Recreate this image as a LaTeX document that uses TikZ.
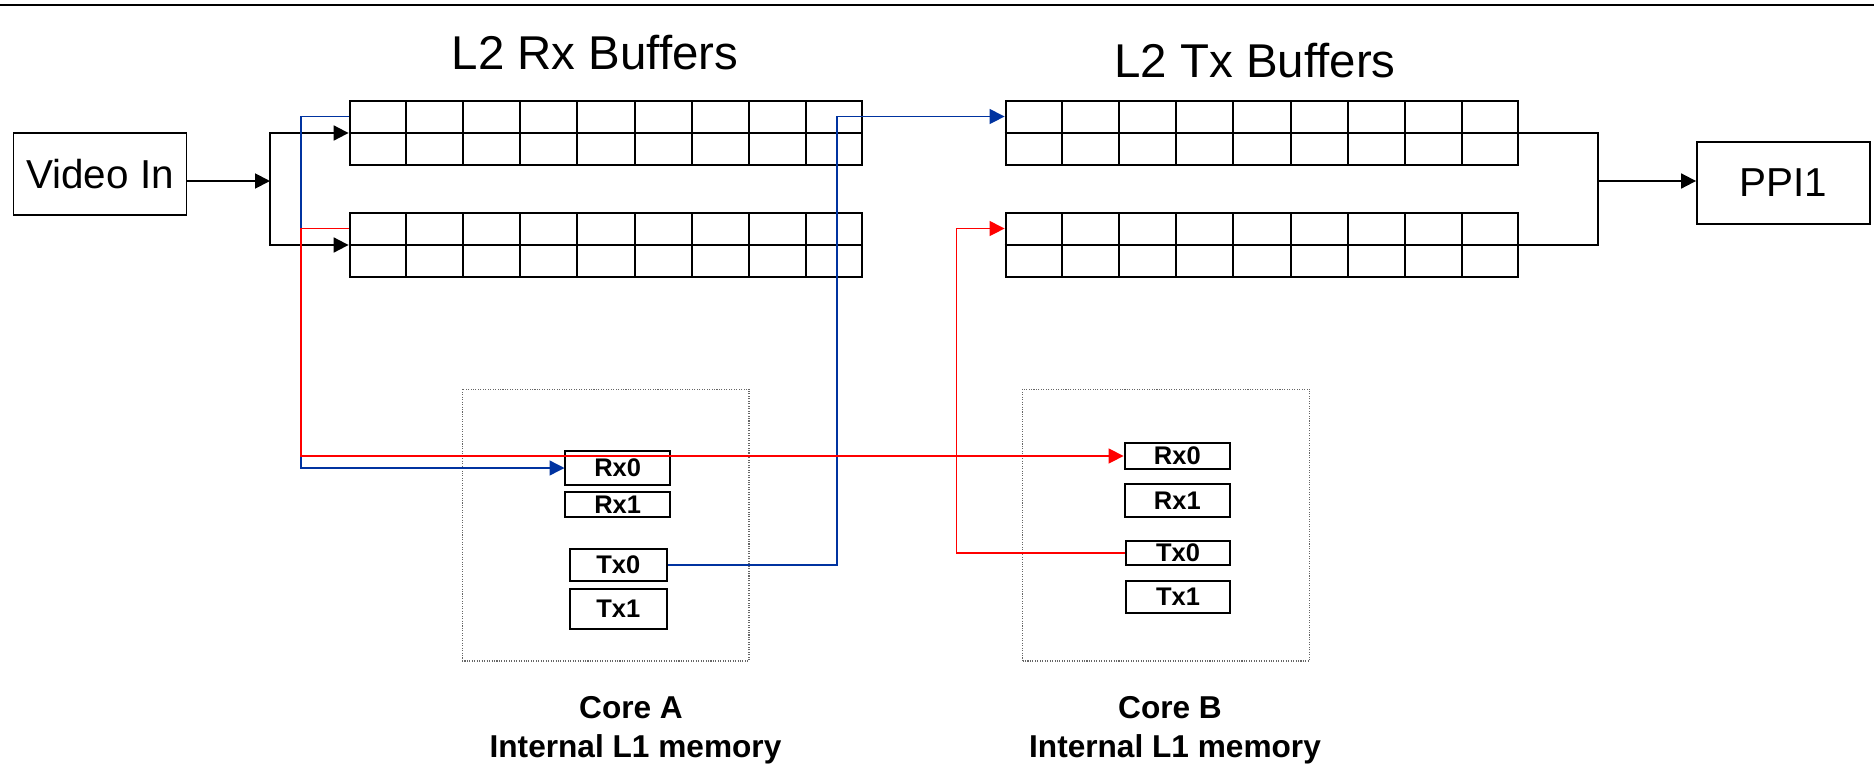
\documentclass[tikz,border=0pt]{standalone}
\usepackage{fontspec}
\setmainfont{Liberation Sans}
\usepackage{tikz}
\usetikzlibrary{arrows.meta,calc}
\definecolor{rxblue}{HTML}{0033A0}
\definecolor{txred}{HTML}{FF0000}
\tikzset{
  io/.style  ={draw, line width=1.1pt, minimum width=3.46cm, minimum height=1.64cm, inner sep=0pt, font=\fontsize{23}{27}\selectfont},
  buf/.style ={draw, line width=1.1pt, minimum width=10.26cm, minimum height=1.28cm, inner sep=0pt},
  cellline/.style={line width=1.1pt},
  core/.style={draw=black!60, dash pattern=on 0.6pt off 0.8pt, line width=0.6pt, minimum width=5.74cm, minimum height=5.44cm, inner sep=0pt},
  mem/.style ={draw, line width=1.1pt, inner sep=0pt, font=\bfseries\fontsize{14.5}{17}\selectfont},
  ttl/.style ={anchor=base, font=\fontsize{27}{32}\selectfont},
  corelab/.style={anchor=base, font=\bfseries\fontsize{18}{22}\selectfont},
  link/.style={line width=1.1pt},
  edge/.style={-{Triangle[length=8.5pt, width=8.5pt]}, line width=1.1pt},
  bedge/.style={-{Triangle[length=8.5pt, width=8.5pt]}, line width=0.8pt, rxblue},
  redge/.style={-{Triangle[length=8.5pt, width=8.5pt]}, line width=0.8pt, txred},
}

\begin{document}
\begin{tikzpicture}[x=0.02cm, y=-0.02cm]
  \useasboundingbox (0,0) rectangle (1874,771);
  \draw[line width=1.1pt] (0,5) -- (1874,5);

  \node[ttl] (rxt) at (595,69)  {L2 Rx Buffers};
  \node[ttl] (txt) at (1255,77) {L2 Tx Buffers};

  % L2 buffers, 9 cells by 2 rows
  \node[buf] (rxa) at (606,133)  {};
  \node[buf] (rxb) at (606,245)  {};
  \node[buf] (txa) at (1262,133) {};
  \node[buf] (txb) at (1262,245) {};
  \foreach \b in {rxa,rxb,txa,txb}{
    \draw[cellline] (\b.west) -- (\b.east);
    \foreach \i in {1,...,8}
      \draw[cellline] ($(\b.north west)!{\i/9}!(\b.north east)$) -- ($(\b.south west)!{\i/9}!(\b.south east)$);
  }

  \node[io] (vin) at (100,174)    {Video In};
  \node[io] (ppi) at (1783.5,183) {PPI1};
  \coordinate (split) at (270,181);
  \coordinate (merge) at (1598,181);
  \draw[edge] (vin.east |- split) -- (split);
  \draw[edge] (split) |- (rxa.west);
  \draw[edge] (split) |- (rxb.west);
  \draw[link] (txa.east) -| (merge) |- (txb.east);
  \draw[edge] (merge) -- (ppi.west |- merge);

  % L1 memory of each core
  \node[core] (coreA) at (605.5,525) {};
  \node[core] (coreB) at (1166,525)  {};
  \node[mem, minimum width=2.09cm, minimum height=0.68cm] (arx0) at (617.7,468)   {Rx0};
  \node[mem, minimum width=2.09cm, minimum height=0.50cm] (arx1) at (617.7,504.5) {Rx1};
  \node[mem, minimum width=1.95cm, minimum height=0.64cm] (atx0) at (618.3,565)   {Tx0};
  \node[mem, minimum width=1.95cm, minimum height=0.80cm] (atx1) at (618.3,609)   {Tx1};
  \node[mem, minimum width=2.11cm, minimum height=0.52cm] (brx0) at (1177.3,456)   {Rx0};
  \node[mem, minimum width=2.11cm, minimum height=0.66cm] (brx1) at (1177.3,500.5) {Rx1};
  \node[mem, minimum width=2.08cm, minimum height=0.48cm] (btx0) at (1178,553)     {Tx0};
  \node[mem, minimum width=2.08cm, minimum height=0.64cm] (btx1) at (1178,597)     {Tx1};

  \node[corelab] (coreAt) at (631,718)   {Core A};
  \node[corelab] (coreAl) at (635.5,757) {Internal L1 memory};
  \node[corelab] (coreBt) at (1170,718)  {Core B};
  \node[corelab] (coreBl) at (1175,757)  {Internal L1 memory};

  % DMA paths
  \draw[bedge] ($(rxa.north west)!.5!(rxa.west)$) -- ++(-47.5,0) |- (arx0.west);
  \draw[bedge] (atx0.east) -- ++(169,0) |- ($(txa.north west)!.5!(txa.west)$);
  \draw[redge] ($(rxb.north west)!.5!(rxb.west)$) -- ++(-47.5,0) |- (brx0.west);
  \draw[redge] (btx0.west) -- ++(-168.5,0) |- ($(txb.north west)!.5!(txb.west)$);
\end{tikzpicture}
\end{document}
